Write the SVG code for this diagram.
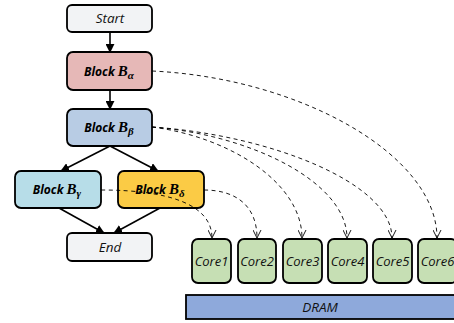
<svg xmlns="http://www.w3.org/2000/svg" width="454" height="323" viewBox="0 0 454 323">
<defs>
<marker id="tri" viewBox="0 0 10 10" refX="9" refY="5" markerWidth="9" markerHeight="9" markerUnits="userSpaceOnUse" orient="auto">
<path d="M0,0 L10,5 L0,10 z" fill="#000"/>
</marker>
<marker id="vee" viewBox="0 0 10 10" refX="9" refY="5" markerWidth="9" markerHeight="9" markerUnits="userSpaceOnUse" orient="auto">
<path d="M0,0.5 L9,5 L0,9.5" fill="none" stroke="#000" stroke-width="1"/>
</marker>
<style>
.box{stroke:#000;stroke-width:1.8}
.lbl{font-family:"Open Sans","Liberation Sans",sans-serif;font-style:italic;font-size:13.5px;fill:#111;text-anchor:middle}
.core text{font-size:13px}
.blk{font-family:"Open Sans","Liberation Sans",sans-serif;font-style:italic;font-weight:bold;font-size:12px;fill:#000;text-anchor:middle}
.math{font-family:"Liberation Serif",serif;font-style:italic;font-weight:bold;font-size:15px}
.sub{font-family:"Liberation Serif",serif;font-style:italic;font-size:11px}
.solid{fill:none;stroke:#000;stroke-width:1.6;marker-end:url(#tri)}
.dash{fill:none;stroke:#000;stroke-width:0.9;stroke-dasharray:4,3.5;marker-end:url(#vee)}
.cr{fill:#C6DFB4}
</style>
</defs>

<g id="dram">
<rect class="box" x="186" y="295" width="272" height="24" fill="#8EA9DB" stroke-width="2.2"/>
<text class="lbl" x="320" y="312">DRAM</text>
</g>

<g id="start">
<rect class="box" x="67" y="5" width="85" height="27" rx="5" fill="#F2F3F5"/>
<text class="lbl" x="110" y="23">Start</text>
</g>
<g id="balpha">
<rect class="box" x="67" y="52" width="85" height="38" rx="6" fill="#E6B8B7"/>
<text class="blk" x="109" y="75.5">Block <tspan class="math">B</tspan><tspan class="sub" dy="3">α</tspan></text>
</g>
<g id="bbeta">
<rect class="box" x="67" y="109" width="85" height="37" rx="6" fill="#B8CCE4"/>
<text class="blk" x="109" y="132">Block <tspan class="math">B</tspan><tspan class="sub" dy="3">β</tspan></text>
</g>
<g id="bgamma">
<rect class="box" x="15" y="171" width="86" height="37" rx="6" fill="#B7DDE8"/>
<text class="blk" x="57" y="194">Block <tspan class="math">B</tspan><tspan class="sub" dy="3">γ</tspan></text>
</g>
<g id="bdelta">
<rect class="box" x="118" y="171" width="86" height="37" rx="6" fill="#FBCB45"/>
<text class="blk" x="160" y="194">Block <tspan class="math">B</tspan><tspan class="sub" dy="3">δ</tspan></text>
</g>
<g id="end">
<rect class="box" x="67" y="233" width="85" height="28" rx="5" fill="#F2F3F5"/>
<text class="lbl" x="110" y="252">End</text>
</g>

<g id="core1" class="core"><rect class="box cr" x="192" y="239" width="39" height="44" rx="6"/><text class="lbl" x="211.5" y="266">Core1</text></g>
<g id="core2" class="core"><rect class="box cr" x="238" y="239" width="38" height="44" rx="6"/><text class="lbl" x="257" y="266">Core2</text></g>
<g id="core3" class="core"><rect class="box cr" x="283" y="239" width="39" height="44" rx="6"/><text class="lbl" x="302.5" y="266">Core3</text></g>
<g id="core4" class="core"><rect class="box cr" x="328" y="239" width="39" height="44" rx="6"/><text class="lbl" x="347.5" y="266">Core4</text></g>
<g id="core5" class="core"><rect class="box cr" x="373" y="239" width="39" height="44" rx="6"/><text class="lbl" x="392.5" y="266">Core5</text></g>
<g id="core6" class="core"><rect class="box cr" x="418" y="239" width="39" height="44" rx="6"/><text class="lbl" x="437.5" y="266">Core6</text></g>

<g id="connectors">
<path class="solid" d="M110,32 L110,52"/>
<path class="solid" d="M110,90 L110,109"/>
<path class="solid" d="M110,146 L61,171"/>
<path class="solid" d="M110,146 L158,171"/>
<path class="solid" d="M59,208 L104,233"/>
<path class="solid" d="M160,208 L114,233"/>
<path class="dash" d="M152,71 C300,78 437,155 437,238"/>
<path class="dash" d="M152,127 C270,135 392,183 392,238"/>
<path class="dash" d="M152,127 C253,135 347,183 347,238"/>
<path class="dash" d="M152,127 C230,137 302,183 302,238"/>
<path class="dash" d="M204,190 C235,190 257,205 257,238"/>
<path class="dash" d="M101,190 C170,190 212,205 212,238"/>
</g>
</svg>
